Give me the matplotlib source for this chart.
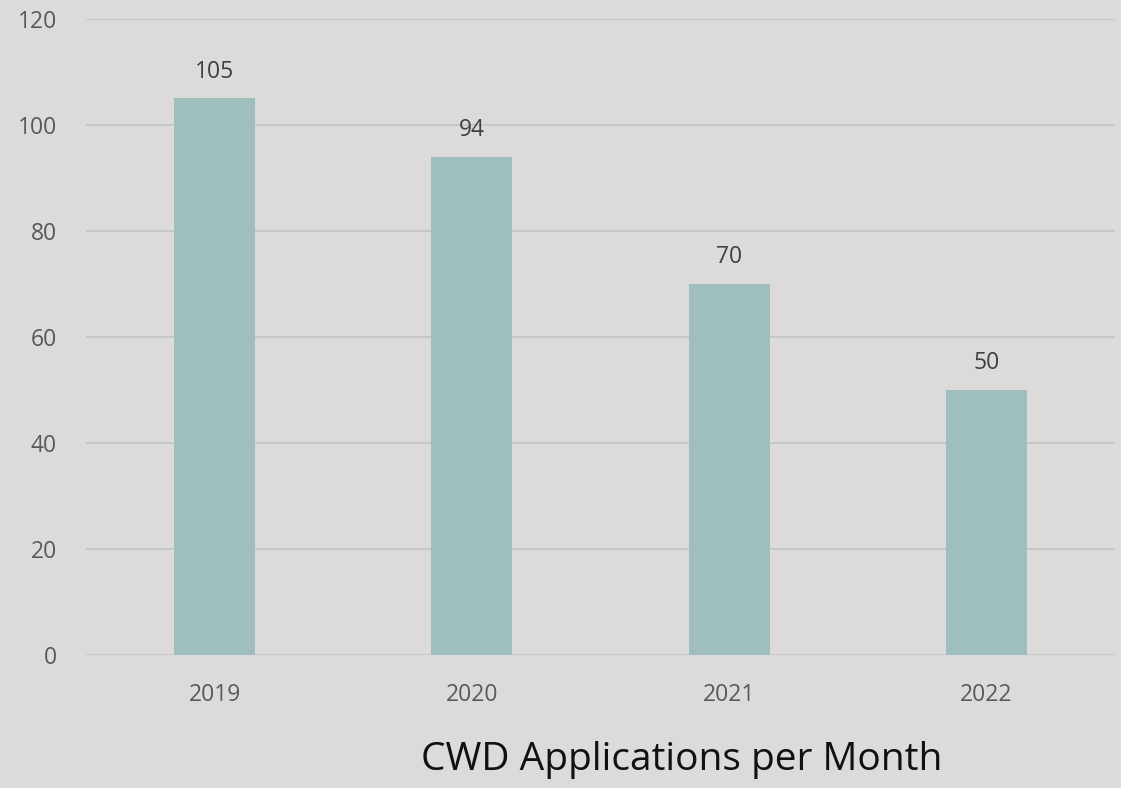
import matplotlib.pyplot as plt

years = ['2019', '2020', '2021', '2022']
applications = [105, 94, 70, 50]

bg = '#dcdbda'
bar_color = '#9fbfbe'
text_color = '#595959'

plt.rcParams['font.family'] = ['Open Sans', 'DejaVu Sans']

fig = plt.figure(figsize=(11.21, 7.88), dpi=100, facecolor=bg)
ax = fig.add_axes([0.0767, 0.1688, 0.9179, 0.8071])
ax.set_facecolor(bg)

x = range(len(years))
ax.bar(x, applications, width=0.315, color=bar_color, zorder=3)
for xi, v in zip(x, applications):
    ax.text(xi, v + 2.8, str(v), ha='center', va='bottom', fontsize=16.5, color='#404040')

ax.set_xlim(-0.5, 3.5)
ax.set_ylim(0, 120)
ax.set_yticks(range(0, 121, 20))
ax.set_xticks(list(x))
ax.set_xticklabels(years)
ax.grid(axis='y', color='#c4c4c4', linewidth=1.3, zorder=0)
ax.tick_params(axis='both', length=0, labelsize=16.5, labelcolor=text_color)
ax.tick_params(axis='y', pad=21)
ax.tick_params(axis='x', pad=20)
for s in ax.spines.values():
    s.set_visible(False)
ax.axhline(0, color='#d3d3d3', linewidth=1, zorder=2)

fig.text(0.608, 0.012, 'CWD Applications per Month', ha='center', va='bottom', fontsize=28, color='#111111')

fig.savefig('out.png', dpi=100, facecolor=bg)
